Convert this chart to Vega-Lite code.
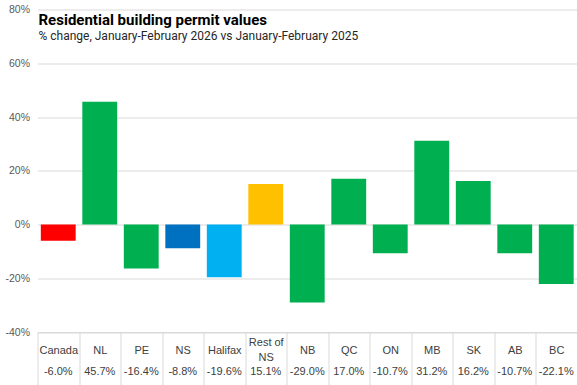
{
  "$schema": "https://vega.github.io/schema/vega-lite/v6.json",
  "width": 539.5,
  "height": 322.5,
  "autosize": {"type": "none"},
  "padding": {"left": 37.5, "top": 9.5, "right": 0, "bottom": 53},
  "background": "white",
  "title": {
    "text": "Residential building permit values",
    "subtitle": "% change, January-February  2026 vs January-February  2025",
    "anchor": "start",
    "frame": "group",
    "offset": 0,
    "dy": 37,
    "font": "Roboto",
    "fontSize": 15,
    "fontWeight": "bold",
    "color": "#000000",
    "subtitleFont": "Roboto",
    "subtitleFontSize": 12,
    "subtitleColor": "#262626",
    "subtitlePadding": 3,
    "dx": 1
  },
  "config": {
    "view": {"stroke": null},
    "locale": {"number": {"decimal": ".", "thousands": ",", "grouping": [3], "currency": ["$", ""], "minus": "-", "percent": "%"}},
    "axis": {"labelFont": "Liberation Sans", "labelFontSize": 10.5, "labelColor": "#595959"}
  },
  "data": {
    "values": [
      {"region": "Canada", "change": -0.060, "group": "Canada"},
      {"region": "NL", "change": 0.457, "group": "Province"},
      {"region": "PE", "change": -0.164, "group": "Province"},
      {"region": "NS", "change": -0.088, "group": "NS"},
      {"region": "Halifax", "change": -0.196, "group": "Halifax"},
      {"region": "Rest of NS", "change": 0.151, "group": "Rest of NS"},
      {"region": "NB", "change": -0.290, "group": "Province"},
      {"region": "QC", "change": 0.170, "group": "Province"},
      {"region": "ON", "change": -0.107, "group": "Province"},
      {"region": "MB", "change": 0.312, "group": "Province"},
      {"region": "SK", "change": 0.162, "group": "Province"},
      {"region": "AB", "change": -0.107, "group": "Province"},
      {"region": "BC", "change": -0.221, "group": "Province"}
    ]
  },
  "encoding": {
    "x": {
      "field": "region",
      "type": "nominal",
      "sort": null,
      "scale": {"paddingInner": 0, "paddingOuter": 0},
      "axis": {
        "title": null,
        "labelAngle": 0,
        "labelExpr": "datum.value == 'Rest of NS' ? ['Rest of', 'NS'] : datum.value",
        "labelBaseline": "middle",
        "labelLineHeight": 15,
        "labelPadding": {"condition": {"test": "datum.value == 'Rest of NS'", "value": -43}, "value": -35},
        "tickBand": "extent",
        "tickSize": 53,
        "tickColor": "#d9d9d9",
        "domainColor": "#d9d9d9",
        "labelColor": "#404040",
        "labelFontSize": 11
      }
    }
  },
  "layer": [
    {
      "mark": {"type": "bar", "width": {"band": 0.84}},
      "encoding": {
        "y": {
          "field": "change",
          "type": "quantitative",
          "scale": {"domain": [-0.4, 0.8], "nice": false},
          "axis": {
            "title": null,
            "tickCount": 6,
            "format": ".0%",
            "domain": false,
            "ticks": false,
            "labelPadding": 8,
            "labelBound": false,
            "gridColor": "#d9d9d9",
            "gridWidth": 1
          }
        },
        "color": {
          "field": "group",
          "type": "nominal",
          "scale": {
            "domain": ["Canada", "Province", "NS", "Halifax", "Rest of NS"],
            "range": ["#FF0000", "#00B050", "#0070C0", "#00B0F0", "#FFC000"]
          },
          "legend": null
        }
      }
    },
    {
      "mark": {"type": "text", "clip": false, "font": "Liberation Sans", "fontSize": 11, "color": "#404040", "baseline": "middle"},
      "encoding": {
        "y": {"datum": -0.55},
        "text": {"field": "change", "type": "quantitative", "format": ".1%"}
      }
    }
  ]
}
